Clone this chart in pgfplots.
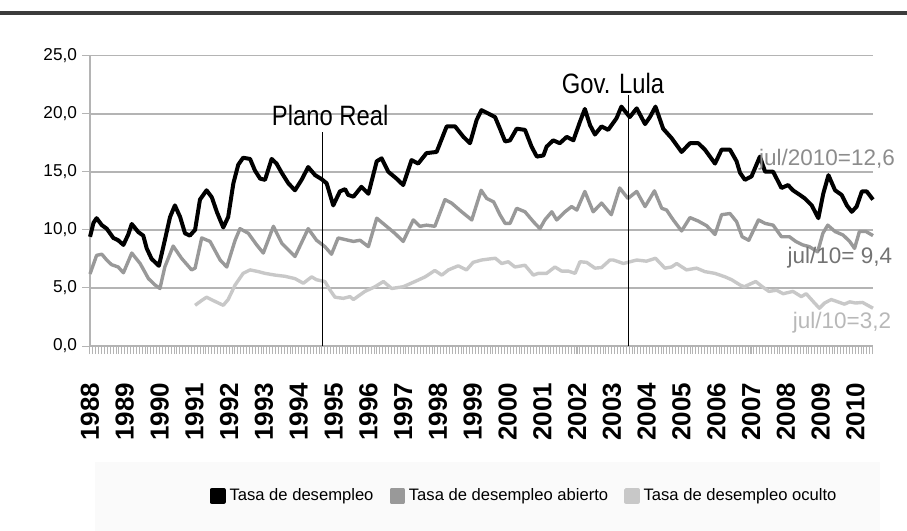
\documentclass[border=0pt]{standalone}
\usepackage{fontspec}
\setmainfont{Liberation Sans}
\newfontfamily\cond[FakeStretch=0.85]{Liberation Sans}
\usepackage{pgfplots}
\pgfplotsset{compat=1.18}
\definecolor{cBlack}{HTML}{000000}
\definecolor{cGray}{HTML}{999999}
\definecolor{cLight}{HTML}{C8C8C8}
\definecolor{cGrid}{HTML}{B4B4B4}
\definecolor{cRule}{HTML}{3C3C3C}
\begin{document}
\begin{tikzpicture}
\path[use as bounding box] (-45pt,-92.5pt) rectangle (408.5pt,173pt);
\fill[black!2] (2.5pt,-58pt) rectangle (395pt,-92.5pt);
\draw[cRule, line width=2pt] (-45pt,166.5pt) -- (408.5pt,166.5pt);
\begin{axis}[
  scale only axis, width=391.5pt, height=145.25pt,
  xmin=1988, xmax=2010.5, ymin=0, ymax=25,
  clip=false,
  axis x line*=bottom, axis y line*=left,
  axis line style={draw=cGrid, line width=1pt},
  ytick={0,5,10,15,20,25},
  yticklabels={{0,0},{5,0},{10,0},{15,0},{20,0},{25,0}},
  ymajorgrids, grid style={draw=cGrid, line width=0.9pt},
  xtick={1988,...,2010},
  minor xtick={1988,1988.083333,...,2010.5},
  tick align=outside,
  major tick length=4pt, minor tick length=4pt,
  every tick/.style={draw=cGrid, line width=0.5pt},
  xticklabels={1988,1989,1990,1991,1992,1993,1994,1995,1996,1997,1998,1999,2000,2001,2002,2003,2004,2005,2006,2007,2008,2009,2010},
  xticklabel style={rotate=90, anchor=east, font=\fontsize{13}{13}\selectfont\bfseries},
  xticklabel shift=11pt,
  yticklabel style={font=\fontsize{8.6}{10}\selectfont, xshift=1pt},
  legend columns=3,
  legend style={at={(0.5556,-0.516)}, anchor=center, draw=none, fill=none,
    font=\fontsize{8.3}{10}\selectfont, /tikz/every even column/.append style={column sep=6pt}},
  legend image code/.code={\fill[#1] (0pt,-3pt) rectangle (6pt,3pt);},
]
\addplot[cBlack, line width=2pt, line join=round] coordinates {
(1988.00,9.4)(1988.10,10.6)(1988.19,11.0)(1988.34,10.4)(1988.48,10.1)(1988.67,9.3)(1988.81,9.1)(1988.96,8.7)
(1989.10,9.6)(1989.20,10.5)(1989.39,9.8)(1989.53,9.5)(1989.63,8.4)(1989.77,7.5)(1989.98,6.9)
(1990.15,9.1)(1990.30,11.1)(1990.44,12.1)(1990.59,11.1)(1990.73,9.7)(1990.87,9.5)
(1991.02,10.0)(1991.16,12.6)(1991.35,13.4)(1991.50,12.8)(1991.65,11.5)(1991.83,10.2)(1991.97,11.1)
(1992.12,14.0)(1992.26,15.6)(1992.40,16.2)(1992.60,16.1)(1992.74,15.1)(1992.89,14.4)
(1993.03,14.3)(1993.22,16.1)(1993.36,15.7)(1993.51,14.9)(1993.70,14.0)(1993.89,13.4)
(1994.08,14.3)(1994.27,15.4)(1994.47,14.7)(1994.66,14.35)(1994.80,14.0)(1994.99,12.1)
(1995.18,13.3)(1995.33,13.5)(1995.42,13.0)(1995.57,12.85)(1995.80,13.7)
(1996.00,13.1)(1996.24,15.9)(1996.38,16.15)(1996.57,15.0)(1996.81,14.4)
(1997.00,13.85)(1997.24,16.0)(1997.43,15.7)(1997.67,16.6)(1997.96,16.7)
(1998.25,18.9)(1998.49,18.9)(1998.73,18.0)(1998.92,17.45)
(1999.11,19.45)(1999.25,20.3)(1999.45,20.0)(1999.64,19.7)(1999.78,18.7)(1999.93,17.6)
(2000.07,17.7)(2000.26,18.7)(2000.50,18.6)(2000.69,17.15)(2000.84,16.3)
(2001.03,16.4)(2001.12,17.15)(2001.31,17.7)(2001.50,17.45)(2001.70,18.0)(2001.89,17.7)
(2002.08,19.3)(2002.22,20.4)(2002.37,19.0)(2002.51,18.2)(2002.70,18.9)(2002.89,18.6)
(2003.13,19.6)(2003.27,20.6)(2003.51,19.7)(2003.71,20.45)(2003.95,19.1)
(2004.09,19.7)(2004.25,20.6)(2004.47,18.7)(2004.71,17.9)
(2005.00,16.7)(2005.24,17.45)(2005.48,17.45)(2005.67,16.9)(2005.96,15.7)
(2006.15,16.9)(2006.39,16.9)(2006.58,15.9)(2006.68,14.9)(2006.82,14.3)
(2007.01,14.6)(2007.25,16.3)(2007.40,15.0)(2007.63,15.0)(2007.87,13.6)
(2008.06,13.85)(2008.20,13.4)(2008.40,13.0)(2008.54,12.7)(2008.74,12.1)(2008.93,11.0)
(2009.07,13.1)(2009.22,14.7)(2009.41,13.4)(2009.60,13.0)(2009.75,12.1)(2009.89,11.55)
(2010.03,12.0)(2010.18,13.3)(2010.32,13.3)(2010.50,12.6)
};
\addlegendentry{Tasa de desempleo}
\addplot[cGray, line width=1.7pt, line join=round] coordinates {
(1988.00,6.2)(1988.19,7.8)(1988.34,7.9)(1988.48,7.4)(1988.62,7.0)(1988.81,6.8)(1988.96,6.3)
(1989.20,8.0)(1989.44,7.1)(1989.68,5.8)(1989.87,5.25)(1990.01,4.95)
(1990.15,6.8)(1990.39,8.6)(1990.63,7.55)(1990.92,6.55)(1991.02,6.7)
(1991.21,9.3)(1991.45,9.0)(1991.74,7.4)(1991.93,6.8)
(1992.17,9.1)(1992.31,10.1)(1992.55,9.7)(1992.79,8.7)(1992.98,8.0)
(1993.27,10.3)(1993.51,8.85)(1993.89,7.7)
(1994.27,10.1)(1994.51,9.1)(1994.75,8.55)(1994.94,7.9)
(1995.13,9.3)(1995.42,9.1)(1995.57,9.0)(1995.76,9.1)
(1996.00,8.55)(1996.24,11.0)(1996.48,10.4)(1996.76,9.7)
(1997.00,9.0)(1997.29,10.85)(1997.48,10.3)(1997.67,10.4)(1997.91,10.3)
(1998.20,12.6)(1998.39,12.3)(1998.68,11.55)(1998.97,10.85)
(1999.24,13.4)(1999.40,12.7)(1999.60,12.4)(1999.78,11.3)(1999.93,10.55)
(2000.07,10.55)(2000.26,11.85)(2000.50,11.55)(2000.74,10.7)(2000.93,10.1)
(2001.07,10.85)(2001.27,11.55)(2001.41,10.85)(2001.65,11.55)(2001.84,12.0)(2001.99,11.7)
(2002.22,13.3)(2002.46,11.55)(2002.70,12.3)(2002.98,11.3)
(2003.22,13.6)(2003.46,12.7)(2003.71,13.3)(2003.95,12.0)
(2004.22,13.35)(2004.43,11.85)(2004.57,11.7)(2004.76,10.85)
(2005.00,9.9)(2005.24,11.05)(2005.48,10.75)(2005.72,10.35)(2005.96,9.6)
(2006.15,11.3)(2006.39,11.4)(2006.58,10.7)(2006.74,9.4)(2006.93,9.1)
(2007.21,10.85)(2007.40,10.55)(2007.63,10.4)(2007.87,9.4)
(2008.10,9.4)(2008.28,9.0)(2008.48,8.7)(2008.67,8.55)(2008.91,8.1)
(2009.06,9.7)(2009.20,10.4)(2009.41,9.85)(2009.64,9.55)(2009.83,9.0)(2009.97,8.4)
(2010.11,9.85)(2010.30,9.85)(2010.50,9.5)
};
\addlegendentry{Tasa de desempleo abierto}
\addplot[cLight, line width=1.7pt, line join=round] coordinates {
(1991.02,3.5)(1991.20,3.9)(1991.35,4.2)(1991.55,3.9)(1991.69,3.7)(1991.83,3.5)(1991.97,4.0)
(1992.17,5.25)(1992.40,6.25)(1992.60,6.55)(1992.84,6.4)
(1993.03,6.25)(1993.32,6.1)(1993.60,6.0)(1993.89,5.8)
(1994.13,5.4)(1994.37,5.95)(1994.51,5.7)(1994.75,5.55)(1994.90,4.8)
(1995.04,4.2)(1995.28,4.1)(1995.47,4.25)(1995.57,4.0)(1995.90,4.7)
(1996.19,5.1)(1996.43,5.55)(1996.67,4.95)
(1997.00,5.1)(1997.34,5.55)(1997.63,5.95)(1997.91,6.5)
(1998.11,6.1)(1998.30,6.55)(1998.58,6.9)(1998.82,6.55)
(1999.01,7.2)(1999.25,7.4)(1999.50,7.5)(1999.65,7.55)(1999.83,7.1)
(2000.02,7.25)(2000.21,6.8)(2000.50,6.95)(2000.74,6.1)(2000.88,6.25)
(2001.12,6.25)(2001.36,6.8)(2001.55,6.45)(2001.74,6.45)(2001.94,6.25)
(2002.08,7.25)(2002.27,7.2)(2002.51,6.7)(2002.70,6.75)(2002.94,7.4)
(2003.04,7.4)(2003.33,7.1)(2003.71,7.4)(2003.99,7.3)
(2004.25,7.55)(2004.52,6.7)(2004.71,6.8)(2004.86,7.1)
(2005.14,6.55)(2005.43,6.7)(2005.67,6.4)(2005.96,6.25)
(2006.25,5.95)(2006.44,5.7)(2006.68,5.25)(2006.80,5.1)
(2007.13,5.55)(2007.32,5.1)(2007.51,4.7)(2007.73,4.8)(2007.92,4.5)
(2008.20,4.7)(2008.44,4.25)(2008.58,4.5)(2008.82,3.7)(2008.96,3.25)
(2009.11,3.7)(2009.30,4.0)(2009.49,3.8)(2009.68,3.6)(2009.83,3.8)
(2010.00,3.7)(2010.20,3.75)(2010.50,3.25)
};
\addlegendentry{Tasa de desempleo oculto}
\addplot[black, line width=0.5pt, forget plot] coordinates {(1994.67,0)(1994.67,18.4)};
\addplot[black, line width=0.5pt, forget plot] coordinates {(2003.46,0)(2003.46,21.6)};
\node[font=\cond\fontsize{14}{14}\selectfont] at (axis cs:1994.9,19.8) {Plano Real};
\node[font=\cond\fontsize{14}{14}\selectfont] at (axis cs:2003.03,22.6) {Gov. Lula};
\node[font=\fontsize{11.25}{11.25}\selectfont, text=black!45] at (axis cs:2009.18,16.0) {jul/2010=12,6};
\node[font=\fontsize{11.25}{11.25}\selectfont, text=black!55] at (axis cs:2009.55,7.57) {jul/10= 9,4};
\node[font=\fontsize{11.25}{11.25}\selectfont, text=black!28] at (axis cs:2009.61,1.98) {jul/10=3,2};
\end{axis}
\end{tikzpicture}
\end{document}
